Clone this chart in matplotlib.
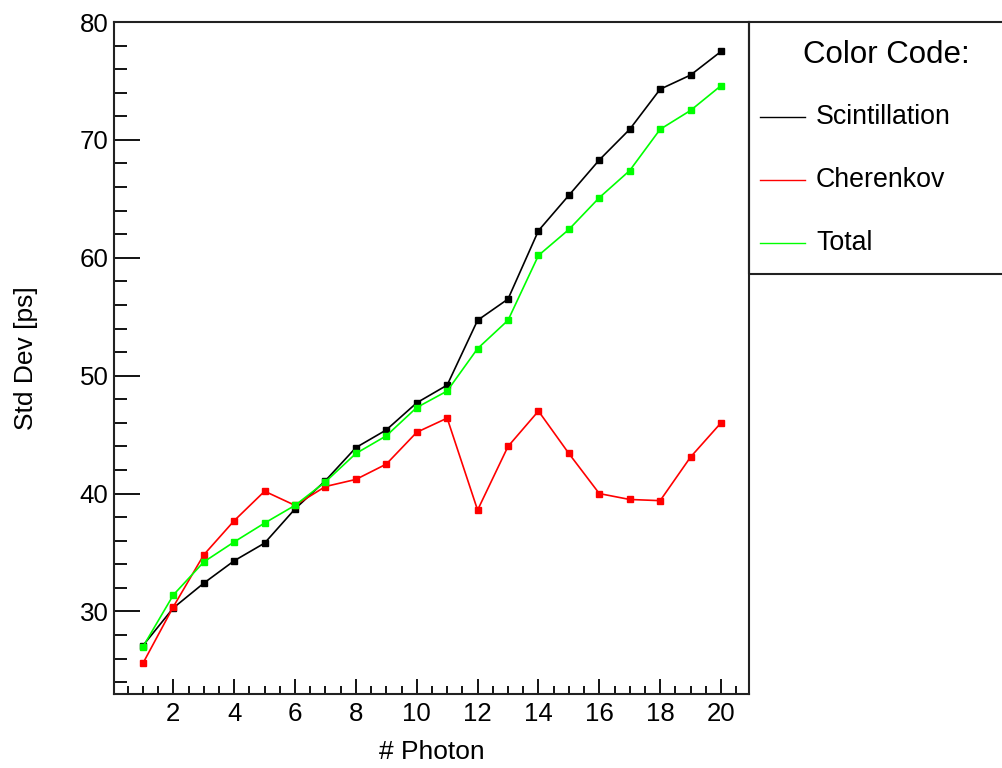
import matplotlib
matplotlib.use("Agg")
import matplotlib.pyplot as plt
from matplotlib.lines import Line2D
from matplotlib.patches import Rectangle
from matplotlib.ticker import MultipleLocator

plt.rcParams['font.family'] = ['Liberation Sans', 'DejaVu Sans']

photons = list(range(1, 21))
scintillation = [27.1, 30.3, 32.4, 34.3, 35.8, 38.7, 41.1, 43.9, 45.4, 47.7,
                 49.2, 54.7, 56.5, 62.3, 65.3, 68.3, 70.9, 74.3, 75.5, 77.5]
cherenkov = [25.6, 30.4, 34.8, 37.7, 40.2, 39.0, 40.6, 41.2, 42.5, 45.2,
             46.4, 38.6, 44.0, 47.0, 43.4, 40.0, 39.5, 39.4, 43.1, 46.0]
total = [27.0, 31.4, 34.2, 35.9, 37.5, 39.0, 41.0, 43.4, 44.9, 47.3,
         48.7, 52.3, 54.7, 60.2, 62.4, 65.1, 67.4, 70.9, 72.5, 74.6]

series_names = ["Scintillation", "Cherenkov", "Total"]
series_colors = ["#000000", "#ff0000", "#00ff00"]
legend_title = "Color Code:"

W, H = 1003, 768
fig = plt.figure(figsize=(W / 100, H / 100), dpi=100)
ax = fig.add_axes([114 / W, 1 - 694 / H, (749 - 114) / W, (694 - 22) / H])

for vals, c in zip([scintillation, cherenkov, total], series_colors):
    ax.plot(photons, vals, color=c, lw=1.2, marker='s', ms=4.5, mec=c, mfc=c)

ax.set_xlim(0.05, 20.92)
ax.set_ylim(23.0, 80.0)
ax.xaxis.set_major_locator(MultipleLocator(2))
ax.xaxis.set_minor_locator(MultipleLocator(0.5))
ax.yaxis.set_major_locator(MultipleLocator(10))
ax.yaxis.set_minor_locator(MultipleLocator(2))
ax.tick_params(axis='x', which='major', direction='in', length=11, width=1.3,
               labelsize=18.6, pad=6, top=False)
ax.tick_params(axis='x', which='minor', direction='in', length=5.5, width=1.3, top=False)
ax.tick_params(axis='y', which='major', direction='in', length=19, width=1.3,
               labelsize=18.6, pad=4, right=False)
ax.tick_params(axis='y', which='minor', direction='in', length=9.5, width=1.3, right=False)
for s in ax.spines.values():
    s.set_linewidth(1.5)
    s.set_color('#222222')

ax.set_xlabel("# Photon", fontsize=19, labelpad=10)
ax.set_ylabel("Std Dev [ps]", fontsize=19, labelpad=30)

# legend box
fig.add_artist(Rectangle((749 / W, 1 - 274 / H), (W + 5 - 749) / W, (274 - 22) / H,
                         transform=fig.transFigure, fill=False, lw=1.5,
                         edgecolor='#222222', clip_on=False))
fig.text(886 / W, 1 - 55 / H, legend_title, fontsize=22.5, ha='center', va='center')
for i, (name, c) in enumerate(zip(series_names, series_colors)):
    yy = 1 - (117 + 63 * i) / H
    fig.add_artist(Line2D([760 / W, 805 / W], [yy, yy], transform=fig.transFigure,
                          color=c, lw=1.0))
    fig.text(816 / W, yy, name, fontsize=19.3, ha='left', va='center')

fig.savefig("out.png", dpi=100)
